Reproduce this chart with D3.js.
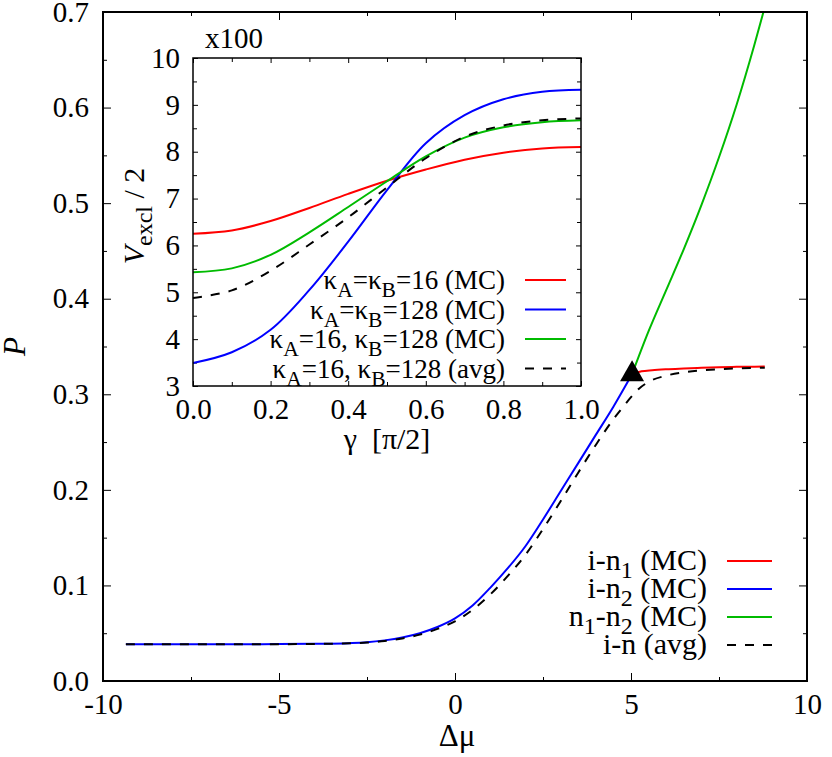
<!DOCTYPE html>
<html>
<head>
<meta charset="utf-8">
<script src="https://cdn.jsdelivr.net/npm/d3@7"></script>
<style>
  body { margin: 0; background: #fff; }
  svg { display: block; }
  text { font-family: "Liberation Serif", "Times New Roman", serif; fill: #000; }
</style>
</head>
<body>
<svg id="chart" width="832" height="757"></svg>
<script>
// ---------- Main chart data (P vs Δμ) ----------
const blueX = [-9.35, -8, -7, -6, -5, -4, -3, -2.5, -2, -1.5, -1, -0.5, 0, 0.5, 1, 1.5, 2, 2.5, 3, 3.5, 4, 4.5, 5.03];
const blueP = [0.0384, 0.0384, 0.0384, 0.0385, 0.0386, 0.0389, 0.0396, 0.0405, 0.0425, 0.0455, 0.0500, 0.0565, 0.0655, 0.0790, 0.0975, 0.1180, 0.1410, 0.1690, 0.1985, 0.2280, 0.2575, 0.2870, 0.3210];

const avgX = [-9.35, -8, -7, -6, -5, -4, -3, -2.5, -2, -1.5, -1, -0.5, 0, 0.5, 1, 1.5, 2, 2.5, 3, 3.5, 4, 4.5, 4.8, 5.0, 5.2, 5.5, 6.0, 6.5, 7.0, 7.5, 8.0, 8.8];
const avgP = [0.0384, 0.0384, 0.0384, 0.0384, 0.0385, 0.0388, 0.0394, 0.0402, 0.0418, 0.0445, 0.0485, 0.0545, 0.0625, 0.0745, 0.0905, 0.1100, 0.1320, 0.1590, 0.1880, 0.2180, 0.2470, 0.2740, 0.2880, 0.2970, 0.3050, 0.3130, 0.3195, 0.3230, 0.3250, 0.3262, 0.3270, 0.3278];

const redX = [5.03, 5.3, 5.6, 6.0, 6.5, 7.0, 7.5, 8.0, 8.8];
const redP = [0.3210, 0.3240, 0.3252, 0.3262, 0.3270, 0.3277, 0.3283, 0.3287, 0.3290];

const greenX = [5.03, 5.5, 6.0, 6.5, 7.0, 7.5, 8.0, 8.5, 8.8];
const greenP = [0.321, 0.366, 0.409, 0.452, 0.498, 0.548, 0.603, 0.665, 0.705];

const markerPoint = [5.03, 0.321];

const mainXTicks = [-10, -5, 0, 5, 10];
const mainXMinor = [-7.5, -2.5, 2.5, 7.5];
const mainYTicks = [0, 0.1, 0.2, 0.3, 0.4, 0.5, 0.6, 0.7];
const mainYMinor = [0.05, 0.15, 0.25, 0.35, 0.45, 0.55, 0.65];

const mainLegend = [
  { parts: [["i-n", "n"], ["1", "sub"], [" (MC)", "n"]], color: "#ff0000", dash: null },
  { parts: [["i-n", "n"], ["2", "sub"], [" (MC)", "n"]], color: "#0000ff", dash: null },
  { parts: [["n", "n"], ["1", "sub"], ["-n", "n"], ["2", "sub"], [" (MC)", "n"]], color: "#00bb00", dash: null },
  { parts: [["i-n (avg)", "n"]], color: "#000000", dash: "9,9" }
];

// ---------- Inset data (V_excl/2 vs γ) ----------
const gamma    = [0, 0.1, 0.2, 0.3, 0.4, 0.5, 0.6, 0.7, 0.8, 0.9, 1.0];
const vRed16   = [6.25, 6.32, 6.52, 6.80, 7.10, 7.38, 7.62, 7.83, 7.98, 8.07, 8.10];
const vBlue128 = [3.49, 3.72, 4.20, 5.05, 6.08, 7.18, 8.18, 8.78, 9.12, 9.28, 9.32];
const vGreenMix= [5.43, 5.51, 5.80, 6.28, 6.82, 7.37, 7.90, 8.30, 8.52, 8.63, 8.67];
const vAvgMix  = [4.88, 5.04, 5.46, 6.02, 6.60, 7.24, 7.86, 8.32, 8.56, 8.67, 8.71];

const insetXTicks = [0, 0.2, 0.4, 0.6, 0.8, 1.0];
const insetXMinor = [0.1, 0.3, 0.5, 0.7, 0.9];
const insetYTicks = [3, 4, 5, 6, 7, 8, 9, 10];
const insetYMinor = [3.5, 4.5, 5.5, 6.5, 7.5, 8.5, 9.5];

const insetLegend = [
  { parts: [["κ", "n"], ["A", "sub"], ["=κ", "n"], ["B", "sub"], ["=16 (MC)", "n"]], color: "#ff0000", dash: null },
  { parts: [["κ", "n"], ["A", "sub"], ["=κ", "n"], ["B", "sub"], ["=128 (MC)", "n"]], color: "#0000ff", dash: null },
  { parts: [["κ", "n"], ["A", "sub"], ["=16, κ", "n"], ["B", "sub"], ["=128 (MC)", "n"]], color: "#00bb00", dash: null },
  { parts: [["κ", "n"], ["A", "sub"], ["=16, κ", "n"], ["B", "sub"], ["=128 (avg)", "n"]], color: "#000000", dash: "9,9" }
];

// ---------- Drawing ----------
const FS = 29;       // tick labels
const FS_LEG = 30;   // main legend
const FS_ILEG = 27;  // inset legend
const svg = d3.select("#chart");

function richText(sel, parts, fs) {
  const subShift = Math.round(fs * 0.28);
  let shifted = false;
  parts.forEach(([t, kind]) => {
    const ts = sel.append("tspan").text(t);
    if (kind === "sub") {
      ts.attr("font-size", fs * 0.8).attr("dy", shifted ? 0 : subShift);
      shifted = true;
    } else {
      ts.attr("font-size", fs).attr("dy", shifted ? -subShift : 0);
      shifted = false;
    }
  });
}

// Main plot
const M = { left: 103, right: 807, top: 12, bottom: 681 };
const x = d3.scaleLinear().domain([-10, 10]).range([M.left, M.right]);
const y = d3.scaleLinear().domain([0, 0.7]).range([M.bottom, M.top]);

const mainG = svg.append("g");
mainG.append("defs").append("clipPath").attr("id", "mainClip")
  .append("rect").attr("x", M.left).attr("y", M.top)
  .attr("width", M.right - M.left).attr("height", M.bottom - M.top);

function styleAxis(g) {
  g.select(".domain").remove();
  g.selectAll(".tick line").attr("stroke", "#000").attr("stroke-width", 1);
  g.selectAll(".tick text").attr("font-size", FS);
}

const fmtPlain = d => String(d);
// bottom major
mainG.append("g").attr("transform", `translate(0,${M.bottom})`)
  .call(d3.axisBottom(x).tickValues(mainXTicks).tickSize(-8).tickPadding(12).tickFormat(fmtPlain))
  .call(styleAxis);
mainG.append("g").attr("transform", `translate(0,${M.bottom})`)
  .call(d3.axisBottom(x).tickValues(mainXMinor).tickSize(-4).tickFormat(""))
  .call(styleAxis);
// top mirror
mainG.append("g").attr("transform", `translate(0,${M.top})`)
  .call(d3.axisTop(x).tickValues(mainXTicks).tickSize(-8).tickFormat(""))
  .call(styleAxis);
mainG.append("g").attr("transform", `translate(0,${M.top})`)
  .call(d3.axisTop(x).tickValues(mainXMinor).tickSize(-4).tickFormat(""))
  .call(styleAxis);
// left
mainG.append("g").attr("transform", `translate(${M.left},0)`)
  .call(d3.axisLeft(y).tickValues(mainYTicks).tickSize(-8).tickPadding(14).tickFormat(d3.format(".1f")))
  .call(styleAxis);
mainG.append("g").attr("transform", `translate(${M.left},0)`)
  .call(d3.axisLeft(y).tickValues(mainYMinor).tickSize(-4).tickFormat(""))
  .call(styleAxis);
// right mirror
mainG.append("g").attr("transform", `translate(${M.right},0)`)
  .call(d3.axisRight(y).tickValues(mainYTicks).tickSize(-8).tickFormat(""))
  .call(styleAxis);
mainG.append("g").attr("transform", `translate(${M.right},0)`)
  .call(d3.axisRight(y).tickValues(mainYMinor).tickSize(-4).tickFormat(""))
  .call(styleAxis);

// curves
const mainLine = d3.line().x(d => x(d[0])).y(d => y(d[1])).curve(d3.curveMonotoneX);
const zip = (a, b) => a.map((v, i) => [v, b[i]]);
const curves = mainG.append("g").attr("clip-path", "url(#mainClip)");
curves.append("path").datum(zip(blueX, blueP)).attr("d", mainLine)
  .attr("fill", "none").attr("stroke", "#0000ff").attr("stroke-width", 2);
curves.append("path").datum(zip(redX, redP)).attr("d", mainLine)
  .attr("fill", "none").attr("stroke", "#ff0000").attr("stroke-width", 2);
curves.append("path").datum(zip(greenX, greenP)).attr("d", mainLine)
  .attr("fill", "none").attr("stroke", "#00bb00").attr("stroke-width", 2);
curves.append("path").datum(zip(avgX, avgP)).attr("d", mainLine)
  .attr("fill", "none").attr("stroke", "#000").attr("stroke-width", 2).attr("stroke-dasharray", "9,9");

// triangle marker
mainG.append("path")
  .attr("d", d3.symbol().type(d3.symbolTriangle).size(250)())
  .attr("transform", `translate(${x(markerPoint[0])},${y(markerPoint[1])})`)
  .attr("fill", "#000");

// frame
mainG.append("rect").attr("x", M.left).attr("y", M.top)
  .attr("width", M.right - M.left).attr("height", M.bottom - M.top)
  .attr("fill", "none").attr("stroke", "#000").attr("stroke-width", 2);

// axis labels
mainG.append("text").attr("x", (M.left + M.right) / 2 + 2).attr("y", 746)
  .attr("text-anchor", "middle").attr("font-size", 31).text("Δμ");
mainG.append("text").attr("transform", `translate(25,${(M.top + M.bottom) / 2}) rotate(-90)`)
  .attr("text-anchor", "middle").attr("font-size", 31).attr("font-style", "italic").text("P");

// main legend
const mainLegG = mainG.append("g");
mainLegend.forEach((item, i) => {
  const ly = 561 + i * 28;
  const t = mainLegG.append("text").attr("x", 707).attr("y", ly + 9).attr("text-anchor", "end");
  richText(t, item.parts, FS_LEG);
  mainLegG.append("line").attr("x1", 727).attr("x2", 772).attr("y1", ly).attr("y2", ly)
    .attr("stroke", item.color).attr("stroke-width", 2)
    .attr("stroke-dasharray", item.dash);
});

// ---------- Inset ----------
const I = { left: 193, right: 581, top: 58, bottom: 386 };
const ix = d3.scaleLinear().domain([0, 1]).range([I.left, I.right]);
const iy = d3.scaleLinear().domain([3, 10]).range([I.bottom, I.top]);
const insetG = svg.append("g");
insetG.append("rect").attr("x", I.left).attr("y", I.top)
  .attr("width", I.right - I.left).attr("height", I.bottom - I.top).attr("fill", "#fff");

insetG.append("g").attr("transform", `translate(0,${I.bottom})`)
  .call(d3.axisBottom(ix).tickValues(insetXTicks).tickSize(-5).tickPadding(12).tickFormat(d3.format(".1f")))
  .call(styleAxis);
insetG.append("g").attr("transform", `translate(0,${I.bottom})`)
  .call(d3.axisBottom(ix).tickValues(insetXMinor).tickSize(-4).tickFormat(""))
  .call(styleAxis);
insetG.append("g").attr("transform", `translate(0,${I.top})`)
  .call(d3.axisTop(ix).tickValues(insetXTicks).tickSize(-5).tickFormat(""))
  .call(styleAxis);
insetG.append("g").attr("transform", `translate(0,${I.top})`)
  .call(d3.axisTop(ix).tickValues(insetXMinor).tickSize(-4).tickFormat(""))
  .call(styleAxis);
insetG.append("g").attr("transform", `translate(${I.left},0)`)
  .call(d3.axisLeft(iy).tickValues(insetYTicks).tickSize(-5).tickPadding(13).tickFormat(d3.format("d")))
  .call(styleAxis);
insetG.append("g").attr("transform", `translate(${I.left},0)`)
  .call(d3.axisLeft(iy).tickValues(insetYMinor).tickSize(-4).tickFormat(""))
  .call(styleAxis);
insetG.append("g").attr("transform", `translate(${I.right},0)`)
  .call(d3.axisRight(iy).tickValues(insetYTicks).tickSize(-5).tickFormat(""))
  .call(styleAxis);
insetG.append("g").attr("transform", `translate(${I.right},0)`)
  .call(d3.axisRight(iy).tickValues(insetYMinor).tickSize(-4).tickFormat(""))
  .call(styleAxis);

const insetLine = d3.line().x(d => ix(d[0])).y(d => iy(d[1])).curve(d3.curveCatmullRom.alpha(0.5));
insetG.append("path").datum(zip(gamma, vRed16)).attr("d", insetLine)
  .attr("fill", "none").attr("stroke", "#ff0000").attr("stroke-width", 2);
insetG.append("path").datum(zip(gamma, vBlue128)).attr("d", insetLine)
  .attr("fill", "none").attr("stroke", "#0000ff").attr("stroke-width", 2);
insetG.append("path").datum(zip(gamma, vGreenMix)).attr("d", insetLine)
  .attr("fill", "none").attr("stroke", "#00bb00").attr("stroke-width", 2);
insetG.append("path").datum(zip(gamma, vAvgMix)).attr("d", insetLine)
  .attr("fill", "none").attr("stroke", "#000").attr("stroke-width", 2).attr("stroke-dasharray", "9,9");

// inset legend
insetLegend.forEach((item, i) => {
  const ly = 280 + i * 29.5;
  const t = insetG.append("text").attr("x", 505).attr("y", ly + 9).attr("text-anchor", "end");
  richText(t, item.parts, FS_ILEG);
  insetG.append("line").attr("x1", 525).attr("x2", 566).attr("y1", ly).attr("y2", ly)
    .attr("stroke", item.color).attr("stroke-width", 2)
    .attr("stroke-dasharray", item.dash);
});

insetG.append("rect").attr("x", I.left).attr("y", I.top)
  .attr("width", I.right - I.left).attr("height", I.bottom - I.top)
  .attr("fill", "none").attr("stroke", "#000").attr("stroke-width", 1.5);

// inset labels
insetG.append("text").attr("x", 205).attr("y", 48).attr("font-size", FS).text("x100");
insetG.append("text").attr("x", (I.left + I.right) / 2).attr("y", 449)
  .attr("text-anchor", "middle").attr("font-size", 30).attr("xml:space", "preserve").text("γ  [π/2]");
const vl = insetG.append("text").attr("transform", `translate(144,216) rotate(-90)`)
  .attr("text-anchor", "middle");
vl.append("tspan").attr("font-size", 30).attr("font-style", "italic").text("V");
vl.append("tspan").attr("font-size", 24).attr("dy", 8).text("excl");
vl.append("tspan").attr("font-size", 30).attr("dy", -8).text(" / 2");
</script>
</body>
</html>
